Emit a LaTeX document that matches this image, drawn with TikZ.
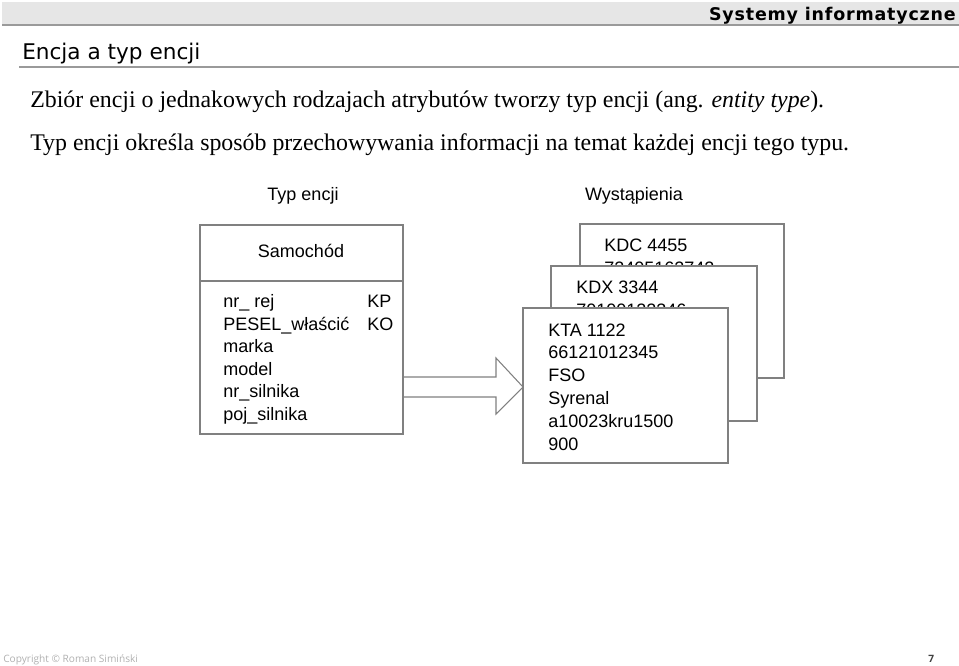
\documentclass[tikz,border=0pt]{standalone}
\usepackage{fontspec}
\setmainfont{Liberation Serif}
\newfontfamily\arial{Liberation Sans}
\newfontfamily\dvs{DejaVu Sans}
\newfontfamily\hdrfont[LetterSpace=4.6]{DejaVu Sans}
\newfontfamily\footfont{Open Sans}
\definecolor{barfill}{HTML}{E6E6E6}
\definecolor{barline}{HTML}{9A9A9A}
\definecolor{boxline}{HTML}{808080}
\definecolor{foottext}{HTML}{B0B0B0}
\tikzset{
  dtext/.style={font=\arial\fontsize{13.5pt}{16pt}\selectfont, inner sep=0pt, anchor=base west},
  dbox/.style={draw=boxline, line width=0.8pt, fill=white},
  bodytext/.style={font=\fontsize{17.9pt}{20pt}\selectfont, anchor=base west, inner sep=0pt},
}
\begin{document}
\begin{tikzpicture}[x=0.75pt,y=-0.75pt]
\useasboundingbox (0,0) rectangle (959,666);
% header bar
\fill[barfill] (2,2) rectangle (959,25);
\draw[barline, line width=1.5pt] (2,25) -- (959,25);
\node[font=\hdrfont\bfseries\fontsize{13.1pt}{15pt}\selectfont, anchor=base east, inner sep=0pt] (hdr) at (956,21) {Systemy informatyczne};
% title
\node[font=\dvs\fontsize{16.2pt}{19pt}\selectfont, anchor=base west, inner sep=0pt] (title) at (22,60) {Encja a typ encji};
\draw[barline, line width=1.5pt] (19,67) -- (959,67);
% body
\node[bodytext] (l1) at (30,108) {Zbiór encji o jednakowych rodzajach atrybutów tworzy typ encji (ang. \textit{entity type}).};
\node[bodytext] (l2) at (30,151) {Typ encji określa sposób przechowywania informacji na temat każdej encji tego typu.};
% column headings
\node[dtext, anchor=base] (h1) at (303,201) {Typ encji};
\node[dtext, anchor=base] (h2) at (634,201) {Wystąpienia};
% entity box
\draw[dbox] (200,225) rectangle (403,434);
\draw[boxline, line width=0.8pt] (200,281) -- (403,281);
\node[dtext, anchor=base] (name) at (301,258) {Samochód};
\foreach \t [count=\i from 0] in {nr\_ rej,PESEL\_właścić,marka,model,nr\_silnika,poj\_silnika}
  \node[dtext] (a\i) at (223,308+22.4*\i) {\t};
\node[dtext] (kp) at (367,308) {KP};
\node[dtext] (ko) at (367,330.4) {KO};
% arrow
\draw[boxline, line width=0.8pt] (403,377) -- (496,377) -- (496,358) -- (523,387) -- (496,414) -- (496,397) -- (403,397);
% cards
\draw[dbox] (580,224) rectangle (784,378);
\node[dtext] (c1a) at (604,252) {KDC 4455};
\node[dtext] (c1b) at (604,274.5) {72405162742};
\draw[dbox] (551,266) rectangle (757,421);
\node[dtext] (c2a) at (576,294) {KDX 3344};
\node[dtext] (c2b) at (576,316.5) {70100122346};
\draw[dbox] (523,308) rectangle (728,463);
\foreach \t [count=\i from 0] in {KTA 1122,66121012345,FSO,Syrenal,a10023kru1500,900}
  \node[dtext] (c3\i) at (548,336+22.8*\i) {\t};
% footer
\node[font=\footfont\fontsize{7.6pt}{9pt}\selectfont, text=foottext, anchor=base west, inner sep=0pt] (copy) at (3,662) {Copyright © Roman Simiński};
\node[font=\footfont\bfseries\fontsize{7.6pt}{9pt}\selectfont, text=black!75, anchor=base west, inner sep=0pt] (page) at (928,662) {7};
\end{tikzpicture}
\end{document}
